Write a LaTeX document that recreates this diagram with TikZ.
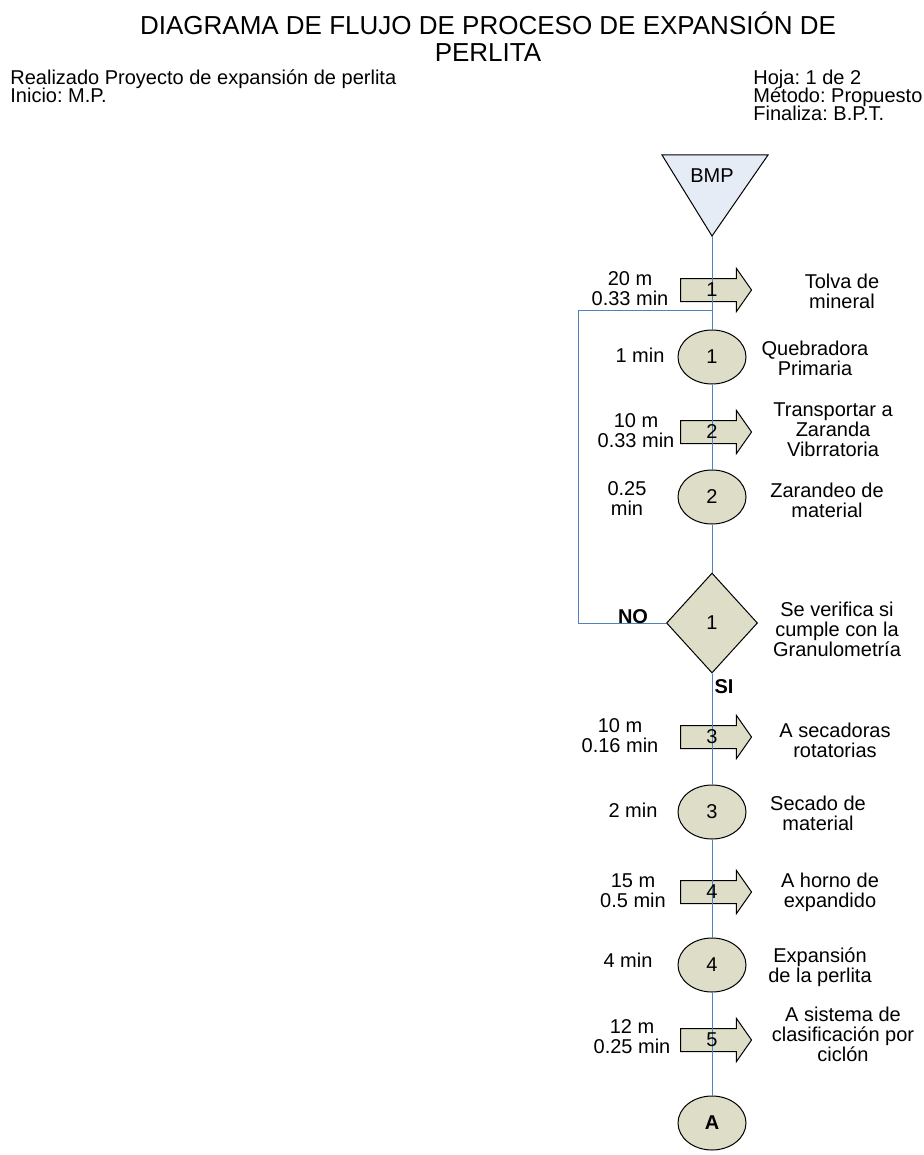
\documentclass[tikz,border=0pt]{standalone}
\usepackage{fontspec}
\setmainfont{Liberation Sans}
\usetikzlibrary{shapes.geometric,shapes.arrows}
\definecolor{flowblue}{RGB}{79,129,189}
\definecolor{opfill}{RGB}{221,221,200}
\definecolor{bmpfill}{RGB}{230,236,245}
\frenchspacing
\lineskiplimit=-10pt

\begin{document}
\begin{tikzpicture}[x=0.5pt,y=-0.5pt,font=\fontsize{10}{10}\selectfont,
 flow/.style={draw=flowblue,line width=0.5pt},
 mover/.style={single arrow,draw,fill=opfill,line width=0.5pt,minimum height=35.5pt,
  single arrow head extend=5pt,single arrow tip angle=110,inner ysep=1.9pt,
  text height=7.2pt,text depth=0pt},
 oper/.style={ellipse,draw,fill=opfill,line width=0.5pt,minimum width=34pt,minimum height=27pt,inner sep=0pt},
 check/.style={diamond,draw,fill=opfill,line width=0.5pt,minimum width=45.5pt,minimum height=50pt,inner sep=0pt},
 note/.style={align=center},
 head/.style={anchor=base west,align=left,inner sep=0pt,font=\fontsize{10}{9}\selectfont}]
\useasboundingbox (0,0) rectangle (924,1155);
% heading
\node[note,anchor=base,font=\fontsize{13}{13.5}\selectfont] (title) at (488,62) {DIAGRAMA DE FLUJO DE PROCESO DE EXPANSIÓN DE\\PERLITA};
\node[head] (hdleft) at (10,103) {Realizado Proyecto de expansión de perlita\\Inicio: M.P.};
\node[head] (hdright) at (753,121) {Hoja: 1 de 2\\Método: Propuesto\\Finaliza: B.P.T.};
% storage
\draw[fill=bmpfill,line width=0.5pt] (662,155) -- (768,155) -- (712,236) -- cycle;
\node (bmp) at (712,176) {BMP};
\coordinate (tip) at (712,236);
% steps
\node[mover] (a1) at (712,290) {};
\node[oper] (c1) at (712,357) {1};
\node[mover] (a2) at (712,432) {};
\node[oper] (c2) at (712,497) {2};
\node[check] (d1) at (712,623) {1};
\node[mover] (a3) at (712,737) {};
\node[oper] (c3) at (712,812) {3};
\node[mover] (a4) at (712,892) {};
\node[oper] (c4) at (712,965) {4};
\node[mover] (a5) at (712,1040) {};
\node[oper,font=\fontsize{10}{10}\selectfont\bfseries] (cA) at (712,1123) {A};
% connectors
\draw[flow] (tip) -- (c1);
\draw[flow] (c1) -- (c2);
\draw[flow] (c2) -- (d1);
\draw[flow] (d1) -- (c3);
\draw[flow] (c3) -- (c4);
\draw[flow] (c4) -- (cA);
\coordinate (back) at (712,310);
\coordinate (corner) at (578,310);
\draw[flow] (d1.west) -| (corner) -- (back);
\foreach \k in {1,...,5}
  \node (n\k) at (a\k) {\k};
\node[font=\fontsize{10}{10}\selectfont\bfseries] (no) at (633,617) {NO};
\node[font=\fontsize{10}{10}\selectfont\bfseries] (si) at (724,687) {SI};
% left labels
\node[note] (l1) at (630,289) {20 m\\0.33 min};
\node[note] (l2) at (636,431) {10 m\\0.33 min};
\node[note] (l3) at (620,736) {10 m\\0.16 min};
\node[note] (l4) at (633,891) {15 m\\0.5 min};
\node[note] (l5) at (632,1037) {12 m\\0.25 min};
\node[note] (t1) at (640,355) {1 min};
\node[note] (t2) at (627,499) {0.25\\min};
\node[note] (t3) at (633,810) {2 min};
\node[note] (t4) at (628,960) {4 min};
% right labels
\node[note] (r1) at (842,291) {Tolva de\\mineral};
\node[note] (r2) at (815,358) {Quebradora\\Primaria};
\node[note] (r3) at (833,430) {Transportar a\\Zaranda\\Vibrratoria};
\node[note] (r4) at (827,500) {Zarandeo de\\material};
\node[note] (r5) at (837,629) {Se verifica si\\cumple con la\\Granulometría};
\node[note] (r6) at (835,740) {A secadoras\\rotatorias};
\node[note] (r7) at (818,813) {Secado de\\material};
\node[note] (r8) at (830,892) {A horno de\\expandido};
\node[note] (r9) at (820,967) {Expansión\\de la perlita};
\node[note] (r10) at (843,1034) {A sistema de\\clasificación por\\ciclón};
\end{tikzpicture}
\end{document}
